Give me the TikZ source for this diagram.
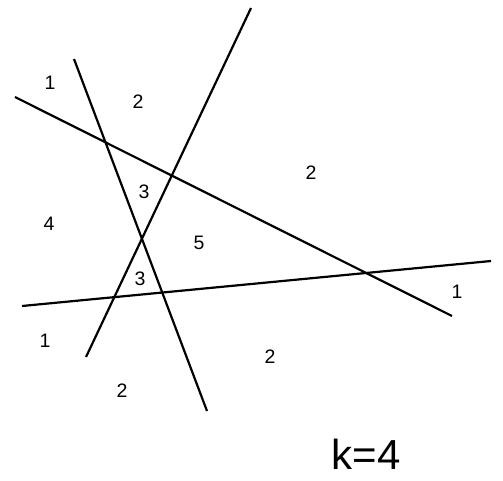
\documentclass[tikz,border=0pt]{standalone}
\usepackage{fontspec}
\setmainfont{Liberation Sans}
\begin{document}
\begin{tikzpicture}[x=1pt,y=-1pt,
  ln/.style={line width=2.2pt,line cap=butt},
  lbl/.style={font=\fontsize{19.5}{19.5}\selectfont,inner sep=0pt}]
\useasboundingbox (0,0) rectangle (503,481);
\coordinate (a1) at (15,97);
\coordinate (a2) at (452,316);
\coordinate (b1) at (74,59);
\coordinate (b2) at (207,411);
\coordinate (c1) at (251,8);
\coordinate (c2) at (86,357);
\coordinate (d1) at (22,306);
\coordinate (d2) at (491,261);
\draw[ln] (a1) -- (a2);
\draw[ln] (b1) -- (b2);
\draw[ln] (c1) -- (c2);
\draw[ln] (d1) -- (d2);
\node[lbl] (r1) at (50,83) {1};
\node[lbl] (r2) at (138,102) {2};
\node[lbl] (r3) at (311,173) {2};
\node[lbl] (r4) at (144,192) {3};
\node[lbl] (r5) at (49,224) {4};
\node[lbl] (r6) at (199,243) {5};
\node[lbl] (r7) at (140,279) {3};
\node[lbl] (r8) at (45,341) {1};
\node[lbl] (r9) at (122,391) {2};
\node[lbl] (r10) at (457,292) {1};
\node[lbl] (r11) at (270,357) {2};
\node[font=\fontsize{42}{42}\selectfont,inner sep=0pt] (k) at (366,454) {k=4};
\end{tikzpicture}
\end{document}
